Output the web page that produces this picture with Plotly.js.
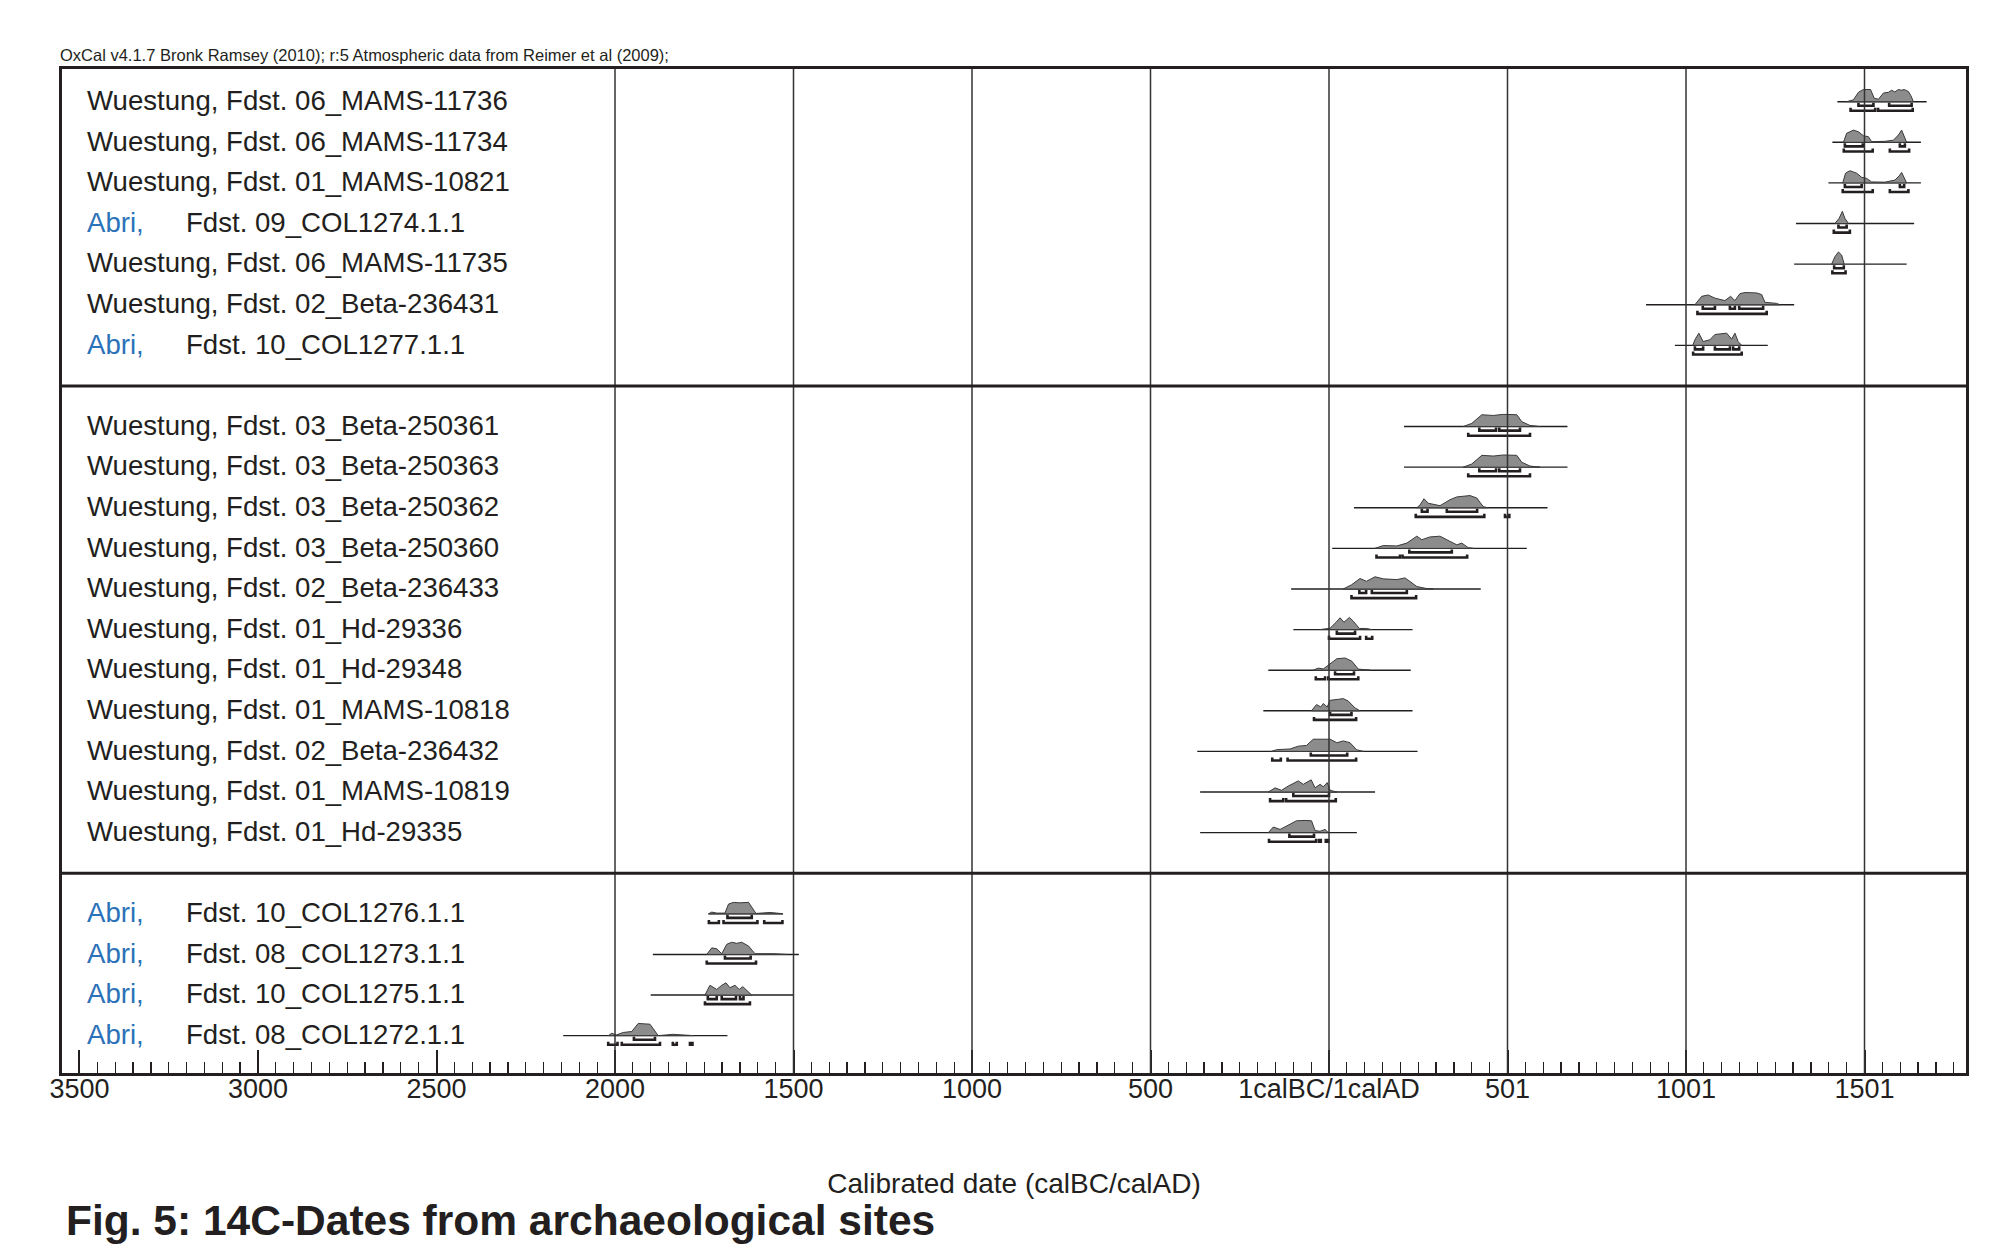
<!DOCTYPE html>
<html>
<head>
<meta charset="utf-8">
<script src="https://cdn.plot.ly/plotly-3.0.1.min.js"></script>
<style>
  html, body { margin: 0; padding: 0; background: #ffffff; }
  #chart { width: 1994px; height: 1251px; }
</style>
</head>
<body>
<div id="chart"></div>
<script>
// ---------- DATA ----------
// Years on a continuous scale: negative = calBC, 0 = 1calBC/1calAD boundary, 500 = "501" calAD
const tickYears  = [-3500, -3000, -2500, -2000, -1500, -1000, -500, 0, 500, 1000, 1500];
const tickLabels = ["3500", "3000", "2500", "2000", "1500", "1000", "500", "1calBC/1calAD", "501", "1001", "1501"];
const gridYears  = [-2000, -1500, -1000, -500, 0, 500, 1000, 1500];

const groupSizes = [7, 11, 4];

const siteNames = [
  "Wuestung", "Wuestung", "Wuestung", "Abri", "Wuestung", "Wuestung", "Abri",
  "Wuestung", "Wuestung", "Wuestung", "Wuestung", "Wuestung", "Wuestung", "Wuestung", "Wuestung", "Wuestung", "Wuestung", "Wuestung",
  "Abri", "Abri", "Abri", "Abri"
];
const sampleIds = [
  "Fdst. 06_MAMS-11736", "Fdst. 06_MAMS-11734", "Fdst. 01_MAMS-10821", "Fdst. 09_COL1274.1.1",
  "Fdst. 06_MAMS-11735", "Fdst. 02_Beta-236431", "Fdst. 10_COL1277.1.1",
  "Fdst. 03_Beta-250361", "Fdst. 03_Beta-250363", "Fdst. 03_Beta-250362", "Fdst. 03_Beta-250360",
  "Fdst. 02_Beta-236433", "Fdst. 01_Hd-29336", "Fdst. 01_Hd-29348", "Fdst. 01_MAMS-10818",
  "Fdst. 02_Beta-236432", "Fdst. 01_MAMS-10819", "Fdst. 01_Hd-29335",
  "Fdst. 10_COL1276.1.1", "Fdst. 08_COL1273.1.1", "Fdst. 10_COL1275.1.1", "Fdst. 08_COL1272.1.1"
];

// extent of the thin line under each distribution
const lineStart = [1424, 1410, 1399, 1308, 1303, 888, 969,
                   210, 210, 70, 9, -106, -100, -170, -184, -369, -361, -361,
                   -1738, -1894, -1900, -2145];
const lineEnd   = [1674, 1658, 1658, 1639, 1618, 1303, 1229,
                   668, 668, 612, 554, 425, 234, 229, 234, 248, 129, 78,
                   -1530, -1485, -1500, -1685];

// probability distribution outlines (year, relative height)
const curveYears = [
  [1450,1469,1483,1497,1517,1527,1539,1553,1567,1576,1585,1595,1604,1611,1623,1630,1637],
  [1441,1450,1469,1483,1497,1511,1520,1557,1581,1595,1604,1611,1618],
  [1439,1447,1459,1478,1492,1506,1520,1557,1585,1597,1604,1611,1618],
  [1417,1429,1438,1445,1455],
  [1408,1417,1427,1436,1443],
  [1025,1044,1062,1081,1109,1125,1137,1151,1165,1198,1212,1221,1254,1263],
  [1019,1025,1036,1048,1067,1081,1114,1128,1137,1146,1156],
  [376,400,428,460,488,526,540,563,591],
  [376,400,428,460,488,526,540,563,591],
  [246,255,266,278,311,339,358,381,395,414,432,446],
  [129,152,190,218,246,260,283,311,339,358,372,390,404],
  [40,63,87,105,129,152,190,213,246,274,292],
  [-25,3,20,31,42,57,68,85,105,120],
  [-44,-30,-16,3,22,45,64,82,115],
  [-49,-35,-23,-16,-5,3,26,40,54,73,87],
  [-161,-147,-109,-86,-63,-44,3,22,40,59,77,96],
  [-170,-151,-133,-114,-86,-72,-50,-39,-25,-16,-5,3,22],
  [-170,-156,-137,-119,-91,-67,-49,-39,-25,-11,-2],
  [-1738,-1729,-1715,-1692,-1682,-1668,-1650,-1626,-1605,-1584,-1566,-1547,-1530],
  [-1743,-1729,-1715,-1701,-1687,-1673,-1659,-1645,-1626,-1608,-1556,-1519],
  [-1748,-1734,-1715,-1701,-1689,-1678,-1664,-1652,-1642,-1617],
  [-2019,-2009,-1997,-1977,-1953,-1935,-1902,-1879,-1837,-1780]
];
const curveHeights = [
  [0,0.15,0.77,1.0,1.0,0.29,0.2,0.71,0.77,0.94,0.8,1.0,0.94,1.0,0.83,0.49,0],
  [0,0.74,1.0,0.86,0.54,0.46,0.05,0.08,0.17,0.6,1.0,0.46,0],
  [0,0.8,1.0,0.8,0.46,0.37,0.08,0.06,0.23,0.57,0.86,0.46,0],
  [0,0.43,1.0,0.43,0],
  [0,0.6,1.0,0.74,0],
  [0,0.69,0.8,0.54,0.34,0.69,0.34,0.91,1.0,0.97,0.83,0.2,0.11,0],
  [0,0.46,1.0,0.31,0.46,0.89,1.0,0.51,1.0,0.3,0],
  [0,0.26,0.97,0.91,1.0,0.97,0.4,0.09,0],
  [0,0.26,0.97,0.91,1.0,0.97,0.4,0.09,0],
  [0,0.23,0.74,0.37,0.17,0.66,0.89,0.94,1.0,0.8,0.09,0],
  [0,0.23,0.2,0.43,1.0,0.71,0.94,1.0,0.57,0.29,0.43,0.06,0],
  [0,0.34,0.86,0.63,1.0,0.83,0.77,0.91,0.2,0.03,0],
  [0,0.11,0.6,0.97,0.6,1.0,0.69,0.09,0.09,0],
  [0,0.17,0.1,0.51,0.94,1.0,0.74,0.09,0],
  [0,0.51,0.31,0.6,0.31,0.86,0.94,1.0,0.8,0.23,0],
  [0,0.14,0.2,0.43,0.49,1.0,1.0,0.71,0.86,0.71,0.14,0],
  [0,0.34,0.14,0.49,0.91,0.63,1.0,0.34,0.63,0.43,0.77,0.14,0],
  [0,0.46,0.26,0.54,0.97,1.0,0.97,0.17,0.11,0.26,0],
  [0,0.14,0.06,0.06,0.8,0.94,0.9,0.94,0.03,0.06,0.11,0.06,0],
  [0,0.54,0.46,0.06,0.83,1.0,0.91,1.0,0.69,0.06,0.06,0],
  [0,0.8,0.46,0.8,1.0,0.6,0.8,0.46,0.69,0],
  [0,0.2,0.05,0.26,0.34,1.0,0.94,0,0.11,0]
];

// highest posterior density ranges
const ranges68 = [
  [[1483,1525],[1569,1632]], [[1445,1495],[1599,1613]], [[1445,1492],[1599,1611]], [[1427,1450]],
  [[1415,1442]], [[1047,1081],[1123,1137],[1149,1216]], [[1025,1048],[1081,1123],[1132,1149]],
  [[421,468],[477,535]], [[421,468],[477,535]], [[260,276],[330,415]], [[225,344]],
  [[85,104],[120,218]], [[22,73]], [[17,70]], [[3,63]], [[-51,51]], [[-100,0]], [[-111,-42]],
  [[-1685,-1617]], [[-1692,-1620]], [[-1740,-1715],[-1701,-1661],[-1650,-1640]], [[-1947,-1888]]
];
const ranges95 = [
  [[1461,1530],[1538,1635]], [[1442,1523],[1571,1625]], [[1439,1523],[1571,1623]], [[1414,1459]],
  [[1410,1447]], [[1032,1226]], [[1020,1156]],
  [[390,563]], [[390,563]], [[243,435],[493,505]], [[133,199],[206,387]],
  [[63,244]], [[0,87],[104,121]], [[-37,-11],[-2,82]], [[-42,76]], [[-159,-135],[-116,76]],
  [[-165,-128],[-120,19]], [[-168,-36],[-28,-23],[-9,-2]],
  [[-1737,-1709],[-1696,-1601],[-1582,-1531]], [[-1743,-1605]], [[-1748,-1622]],
  [[-2019,-1993],[-1981,-1874],[-1838,-1827],[-1790,-1783]]
];

// ---------- STYLE ----------
const INK = '#231f20';
const BLUE = '#2b72b8';
const FILL = '#8c8c8c';
const FONT = 'Liberation Sans, Arial, Helvetica, sans-serif';
const CURVE_H = 0.30;      // max curve height in row units
const OFF68 = 0.10, OFF95 = 0.225, TICK = 0.075;

// row slots: one empty slot between groups
const rowSlots = [];
const separators = [];
let s = 0;
groupSizes.forEach((n, gi) => {
  for (let i = 0; i < n; i++) rowSlots.push(s++);
  if (gi < groupSizes.length - 1) { separators.push(s); s++; }
});

const traces = [];

// thin base lines
const bx = [], by = [];
rowSlots.forEach((slot, i) => {
  bx.push(lineStart[i], lineEnd[i], null);
  by.push(slot, slot, null);
});
traces.push({type: 'scatter', mode: 'lines', x: bx, y: by,
  line: {color: INK, width: 1.4}, hoverinfo: 'skip'});

// distributions
rowSlots.forEach((slot, i) => {
  const xs = curveYears[i].slice();
  const ys = curveHeights[i].map(h => slot - h * CURVE_H);
  xs.push(curveYears[i][0]); ys.push(slot);
  traces.push({type: 'scatter', mode: 'lines', x: xs, y: ys, fill: 'toself',
    fillcolor: FILL, line: {color: '#3a3a3a', width: 1}, hoverinfo: 'skip'});
});

// brackets
function bracketTrace(ranges, off) {
  const x = [], y = [];
  rowSlots.forEach((slot, i) => {
    ranges[i].forEach(r => {
      const yb = slot + off;
      x.push(r[0], r[0], r[1], r[1], null);
      y.push(yb - TICK, yb, yb, yb - TICK, null);
    });
  });
  return {type: 'scatter', mode: 'lines', x: x, y: y,
    line: {color: INK, width: 2.6}, hoverinfo: 'skip'};
}
traces.push(bracketTrace(ranges68, OFF68));
traces.push(bracketTrace(ranges95, OFF95));

// labels
const annotations = [];
const LABEL_X = -3485, ID_X = -3208, LABEL_DY = -0.03;
rowSlots.forEach((slot, i) => {
  if (siteNames[i] === 'Abri') {
    annotations.push({x: LABEL_X, y: slot + LABEL_DY, xref: 'x', yref: 'y', text: 'Abri,',
      showarrow: false, xanchor: 'left', yanchor: 'middle',
      font: {family: FONT, size: 27.6, color: BLUE}});
    annotations.push({x: ID_X, y: slot + LABEL_DY, xref: 'x', yref: 'y', text: sampleIds[i],
      showarrow: false, xanchor: 'left', yanchor: 'middle',
      font: {family: FONT, size: 27.6, color: INK}});
  } else {
    annotations.push({x: LABEL_X, y: slot + LABEL_DY, xref: 'x', yref: 'y',
      text: siteNames[i] + ', ' + sampleIds[i],
      showarrow: false, xanchor: 'left', yanchor: 'middle',
      font: {family: FONT, size: 27.6, color: INK}});
  }
});
annotations.push({xref: 'paper', yref: 'paper', x: 0.0012, y: -0.1474,
  xanchor: 'left', yanchor: 'middle', showarrow: false,
  text: '<b>Fig. 5: 14C-Dates from archaeological sites</b>',
  font: {family: FONT, size: 42.5, color: INK}});

const shapes = [];
gridYears.forEach(g => shapes.push({type: 'line', xref: 'x', yref: 'paper',
  x0: g, x1: g, y0: 0, y1: 1, line: {color: '#333333', width: 1.5}, layer: 'above'}));
separators.forEach(sp => shapes.push({type: 'line', xref: 'paper', yref: 'y',
  x0: 0, x1: 1, y0: sp, y1: sp, line: {color: INK, width: 3}, layer: 'above'}));

const layout = {
  width: 1994, height: 1251,
  margin: {l: 62, r: 28, t: 69, b: 178, pad: 0},
  paper_bgcolor: '#ffffff', plot_bgcolor: '#ffffff',
  showlegend: false,
  font: {family: FONT, color: INK},
  title: {text: 'OxCal v4.1.7 Bronk Ramsey (2010); r:5 Atmospheric data from Reimer et al (2009);',
    font: {family: FONT, size: 16.5, color: INK},
    xref: 'container', yref: 'container', x: 60 / 1994, xanchor: 'left',
    y: 1 - 55 / 1251, yanchor: 'middle'},
  xaxis: {
    range: [-3549, 1784.3],
    tickmode: 'array', tickvals: tickYears, ticktext: tickLabels,
    ticks: 'inside', ticklen: 23, tickwidth: 2, tickcolor: INK,
    ticklabelstandoff: -10,
    tickfont: {family: FONT, size: 27, color: INK},
    minor: {tickmode: 'linear', tick0: 0, dtick: 50, ticks: 'inside', ticklen: 11,
            tickwidth: 1.3, tickcolor: INK, showgrid: false},
    showgrid: false, zeroline: false,
    showline: true, linewidth: 3, linecolor: INK, mirror: true,
    title: {text: 'Calibrated date (calBC/calAD)', font: {family: FONT, size: 28, color: INK}, standoff: 70},
    fixedrange: true
  },
  yaxis: {
    range: [23.92, -0.805],
    showticklabels: false, ticks: '', showgrid: false, zeroline: false,
    showline: true, linewidth: 3, linecolor: INK, mirror: true,
    fixedrange: true
  },
  annotations: annotations,
  shapes: shapes
};

Plotly.newPlot('chart', traces, layout, {displayModeBar: false, staticPlot: true});
</script>
</body>
</html>
